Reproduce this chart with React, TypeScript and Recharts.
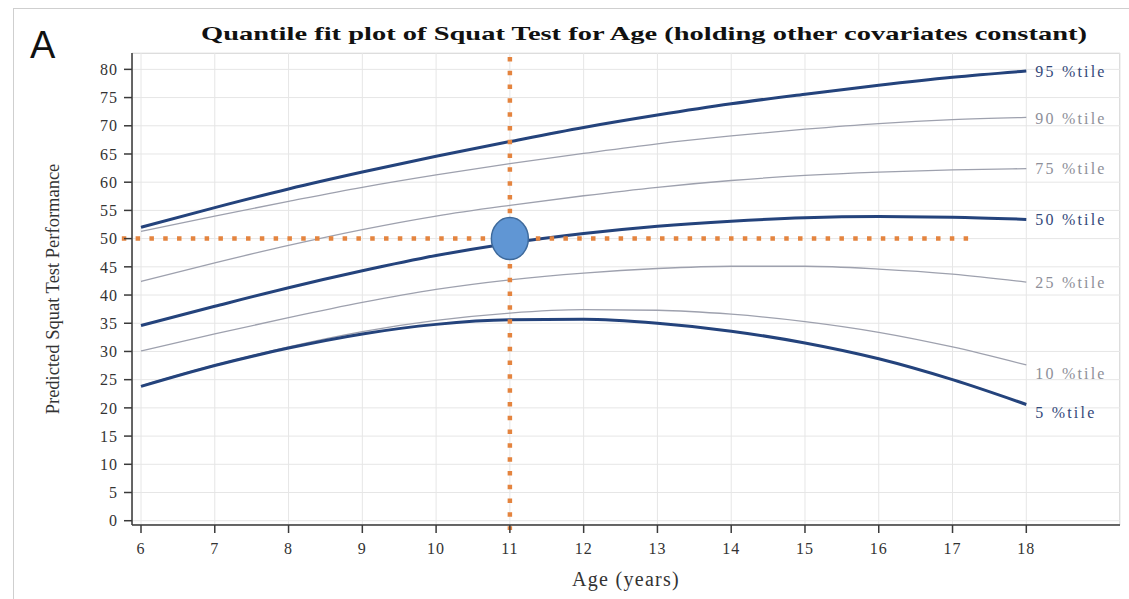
import { LineChart, Line, XAxis, YAxis, CartesianGrid, ReferenceLine, ReferenceDot } from 'recharts';

// ages on the x axis
const ages = [6, 7, 8, 9, 10, 11, 12, 13, 14, 15, 16, 17, 18];

// predicted squat test performance per quantile
const p95 = [52.0, 55.5, 58.8, 61.8, 64.6, 67.2, 69.7, 71.9, 73.9, 75.6, 77.2, 78.6, 79.7];
const p90 = [51.3, 54.0, 56.6, 59.1, 61.3, 63.3, 65.1, 66.8, 68.2, 69.4, 70.4, 71.1, 71.5];
const p75 = [42.4, 45.7, 48.8, 51.6, 54.0, 55.9, 57.6, 59.1, 60.3, 61.2, 61.8, 62.2, 62.4];
const p50 = [34.6, 38.0, 41.3, 44.3, 47.0, 49.2, 50.9, 52.2, 53.1, 53.7, 53.9, 53.8, 53.4];
const p25 = [30.1, 33.1, 36.0, 38.7, 41.0, 42.7, 43.9, 44.7, 45.1, 45.1, 44.6, 43.7, 42.3];
const p10 = [23.9, 27.6, 30.8, 33.5, 35.5, 36.8, 37.4, 37.3, 36.6, 35.3, 33.4, 30.8, 27.6];
const p5 = [23.8, 27.5, 30.6, 33.1, 34.8, 35.6, 35.7, 35.0, 33.6, 31.5, 28.7, 25.0, 20.6];

const yTicks = [0, 5, 10, 15, 20, 25, 30, 35, 40, 45, 50, 55, 60, 65, 70, 75, 80];

// highlighted example: 11 year old, score 50
const highlightAge = 11;
const highlightScore = 50;
const guideStartAge = 5.74;
const guideEndAge = 17.33;

const series = [
  { key: 'p95', name: '95 %tile', values: p95, thick: true, labelDy: 0 },
  { key: 'p90', name: '90 %tile', values: p90, thick: false, labelDy: 1 },
  { key: 'p75', name: '75 %tile', values: p75, thick: false, labelDy: 0 },
  { key: 'p50', name: '50 %tile', values: p50, thick: true, labelDy: 0 },
  { key: 'p25', name: '25 %tile', values: p25, thick: false, labelDy: 0 },
  { key: 'p10', name: '10 %tile', values: p10, thick: false, labelDy: 8 },
  { key: 'p5', name: '5 %tile', values: p5, thick: true, labelDy: 8 },
];

const data = ages.map((age, i) => {
  const row: Record<string, number> = { age };
  series.forEach((s) => {
    row[s.key] = s.values[i];
  });
  return row;
});

const SERIF = '"Liberation Serif", "DejaVu Serif", serif';
const DARK = '#24437c';
const LIGHT = '#9ea1ae';
const ORANGE = '#e4843f';

const endLabel = (text: string, color: string, dy: number) => (props: any) => {
  const { x, y, index } = props;
  if (index !== ages.length - 1) return <g />;
  return (
    <text x={x + 9} y={y + dy} dy="0.35em" fill={color} fontSize={16} fontFamily={SERIF} letterSpacing={2.2}>
      {text}
    </text>
  );
};

const App = () => {
  return (
    <div style={{ position: 'absolute', left: 0, top: 0, width: 1129, height: 599, background: '#fff', overflow: 'hidden' }}>
      <div style={{ position: 'absolute', left: 13, top: 8, width: 1130, height: 610, border: '1.5px solid #cfcfcf' }} />
      <div style={{ position: 'absolute', left: 132, top: 53, width: 988, height: 472, border: '1px solid #d4d4d4', boxSizing: 'border-box' }} />
      <LineChart width={1129} height={599} data={data} margin={{ top: 53, right: 9, bottom: 44, left: 0 }}>
        <CartesianGrid stroke="#e6e6e6" strokeWidth={1} />
        <XAxis
          dataKey="age"
          type="number"
          domain={[5.878, 19.27]}
          ticks={ages}
          allowDataOverflow
          height={30}
          stroke="#3a3a3a"
          strokeWidth={1.5}
          tickSize={8}
          tickMargin={10}
          tick={{ fill: '#333', fontSize: 16, fontFamily: SERIF, letterSpacing: 1 }}
          label={{ value: 'Age (years)', position: 'bottom', offset: 17, fill: '#333', fontSize: 20, fontFamily: SERIF, letterSpacing: 1.3 }}
        />
        <YAxis
          type="number"
          domain={[-0.76, 82.9]}
          ticks={yTicks}
          allowDataOverflow
          width={132}
          stroke="#3a3a3a"
          strokeWidth={1.5}
          tickSize={8}
          tickMargin={6}
          tick={{ fill: '#333', fontSize: 16, fontFamily: SERIF, letterSpacing: 1 }}
          label={{
            value: 'Predicted Squat Test Performance',
            angle: -90,
            position: 'insideLeft',
            offset: 52,
            fill: '#333',
            fontSize: 18.5,
            fontFamily: SERIF,
            style: { textAnchor: 'middle' },
          }}
        />
        {series.map((s) => (
          <Line
            key={s.key}
            dataKey={s.key}
            type="monotone"
            stroke={s.thick ? DARK : LIGHT}
            strokeWidth={s.thick ? 3 : 1.3}
            dot={false}
            activeDot={false}
            isAnimationActive={false}
            label={endLabel(s.name, s.thick ? '#34497a' : '#8e8f99', s.labelDy)}
          />
        ))}
        <ReferenceLine
          segment={[{ x: highlightAge, y: 82.2 }, { x: highlightAge, y: -1.65 }]}
          stroke={ORANGE}
          strokeWidth={4.5}
          strokeDasharray="4.5 9.3"
          ifOverflow="visible"
        />
        <ReferenceLine
          segment={[{ x: guideStartAge, y: highlightScore }, { x: guideEndAge, y: highlightScore }]}
          stroke={ORANGE}
          strokeWidth={4.5}
          strokeDasharray="4.5 9.3"
          ifOverflow="visible"
        />
        <ReferenceDot
          x={highlightAge}
          y={highlightScore}
          ifOverflow="visible"
          shape={(p: any) => <ellipse cx={p.cx} cy={p.cy} rx={18.5} ry={21} fill="#6096d4" stroke="#3e6a9c" strokeWidth={1.5} />}
        />
      </LineChart>
      <svg width={1129} height={70} style={{ position: 'absolute', left: 0, top: 0, pointerEvents: 'none' }}>
        <text x={30} y={58} fontSize={38} fontFamily='"Liberation Sans", Arial, sans-serif' fill="#111">
          A
        </text>
        <text x={201} y={40} fontSize={19} fontWeight="bold" fontFamily={SERIF} fill="#111" textLength={886} lengthAdjust="spacingAndGlyphs">
          Quantile fit plot of Squat Test for Age (holding other covariates constant)
        </text>
      </svg>
    </div>
  );
};

export default App;
